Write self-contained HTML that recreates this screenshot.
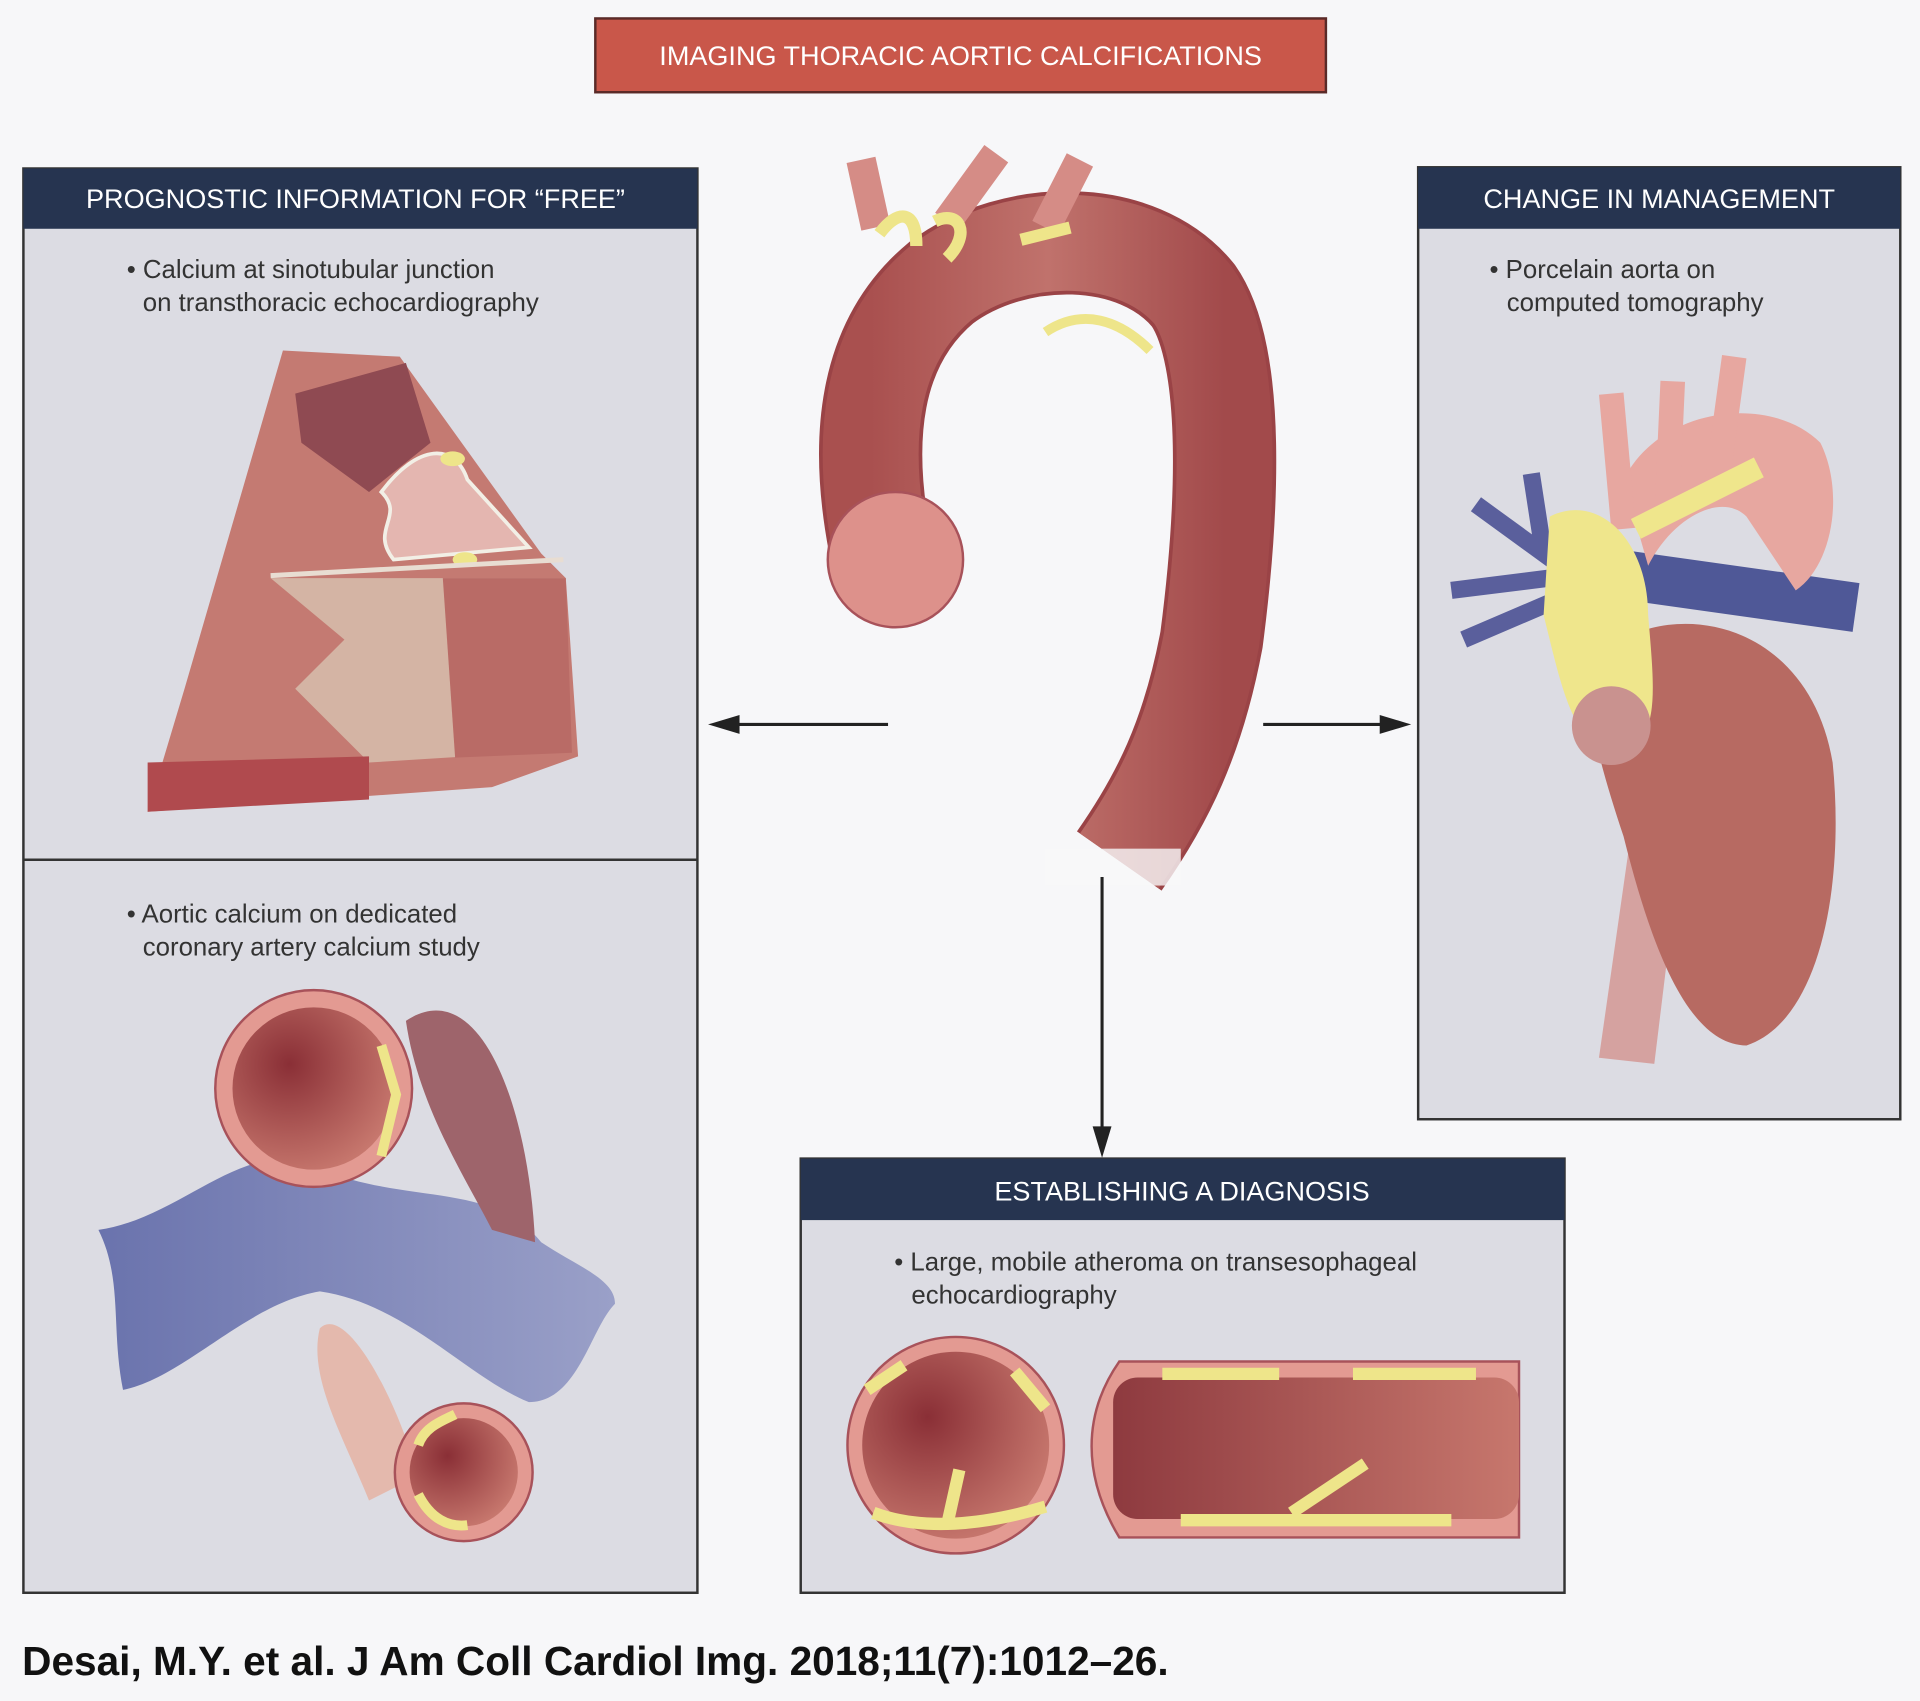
<!DOCTYPE html>
<html><head><meta charset="utf-8"><style>
html,body{margin:0;padding:0;background:#f7f7f9;}
svg{display:block}
text{font-family:"Liberation Sans",sans-serif;}
</style></head><body>
<svg width="1920" height="1701" viewBox="0 0 1561 1383" xmlns="http://www.w3.org/2000/svg">
<defs>
<linearGradient id="ao" x1="0" y1="0" x2="1" y2="0"><stop offset="0" stop-color="#a9504f"/><stop offset="0.5" stop-color="#c0726c"/><stop offset="1" stop-color="#a24a4b"/></linearGradient>
<radialGradient id="lum" cx="0.35" cy="0.35" r="0.8"><stop offset="0" stop-color="#8a2f36"/><stop offset="1" stop-color="#cf8175"/></radialGradient>
<linearGradient id="tube" x1="0" y1="0" x2="1" y2="0"><stop offset="0" stop-color="#8e3a3f"/><stop offset="1" stop-color="#c7776d"/></linearGradient>
<linearGradient id="blue" x1="0" y1="0" x2="1" y2="0"><stop offset="0" stop-color="#6a73ad"/><stop offset="1" stop-color="#9aa0c8"/></linearGradient>
</defs>
<rect width="1561" height="1383" fill="#f7f7f9"/>
<rect x="484" y="15" width="594" height="60" fill="#c9574a" stroke="#5a2a28" stroke-width="2"/>
<text x="781" y="53" font-size="22" fill="#fff" text-anchor="middle">IMAGING THORACIC AORTIC CALCIFICATIONS</text>
<rect x="19" y="137" width="548" height="1158" fill="#dcdce3" stroke="#333" stroke-width="2"/>
<rect x="19" y="137" width="548" height="49" fill="#263450"/>
<text x="289" y="169" font-size="22" fill="#fff" text-anchor="middle">PROGNOSTIC INFORMATION FOR “FREE”</text>
<line x1="19" y1="699" x2="567" y2="699" stroke="#333" stroke-width="2"/>
<text x="103" y="226" font-size="21" fill="#333">• Calcium at sinotubular junction</text>
<text x="116" y="253" font-size="21" fill="#333">on transthoracic echocardiography</text>
<text x="103" y="750" font-size="21" fill="#333">• Aortic calcium on dedicated</text>
<text x="116" y="777" font-size="21" fill="#333">coronary artery calcium study</text>
<polygon points="230,285 325,290 440,450 460,470 470,615 400,640 120,660 150,560" fill="#c47a72"/>
<polygon points="240,320 330,295 350,360 300,400 245,360" fill="#8f4a52"/>
<polygon points="220,470 460,470 460,610 300,620 240,560 280,520" fill="#d4b4a4"/>
<polygon points="360,470 460,470 465,612 370,616" fill="#b96b66"/>
<polygon points="120,620 300,615 300,650 120,660" fill="#b04a4e"/>
<path d="M310,400 C340,360 370,360 380,390 L430,445 L320,455 C300,430 330,420 310,400Z" fill="#e4b6b0" stroke="#f2efe6" stroke-width="3"/>
<ellipse cx="368" cy="373" rx="10" ry="6" fill="#eee58a"/><ellipse cx="378" cy="455" rx="10" ry="6" fill="#eee58a"/>
<line x1="220" y1="468" x2="458" y2="455" stroke="#e8ddd2" stroke-width="4"/>
<path d="M80,1000 C150,990 200,920 260,950 C330,980 400,960 440,1010 C470,1030 500,1040 500,1060 C480,1080 470,1140 430,1140 C380,1120 330,1060 260,1050 C200,1060 150,1120 100,1130 C90,1080 100,1040 80,1000Z" fill="url(#blue)"/>
<path d="M330,830 C390,790 430,900 435,1010 L400,1000 C380,960 340,900 330,830Z" fill="#9e646b"/>
<circle cx="255" cy="885" r="80" fill="#e39a92" stroke="#a8525a" stroke-width="2"/>
<circle cx="255" cy="885" r="66" fill="url(#lum)"/>
<path d="M310,850 L322,890 L310,940" stroke="#eee58a" stroke-width="8" fill="none"/>
<path d="M260,1080 C280,1060 320,1130 340,1200 L300,1220 C280,1170 250,1120 260,1080Z" fill="#e4b9ad"/>
<circle cx="377" cy="1197" r="56" fill="#e39a92" stroke="#a8525a" stroke-width="2"/>
<circle cx="377" cy="1197" r="44" fill="url(#lum)"/>
<path d="M340,1175 C345,1160 360,1155 370,1150 M340,1215 C350,1235 365,1242 380,1240" stroke="#eee58a" stroke-width="8" fill="none"/>
<rect x="1153" y="136" width="392" height="774" fill="#dcdce3" stroke="#333" stroke-width="2"/>
<rect x="1153" y="136" width="392" height="50" fill="#263450"/>
<text x="1349" y="169" font-size="22" fill="#fff" text-anchor="middle">CHANGE IN MANAGEMENT</text>
<text x="1211" y="226" font-size="21" fill="#333">• Porcelain aorta on</text>
<text x="1225" y="253" font-size="21" fill="#333">computed tomography</text>
<path d="M1330,650 L1300,860 L1345,865 L1370,660Z" fill="#d5a2a0"/>
<path d="M1290,540 C1350,480 1470,500 1490,620 C1500,720 1480,830 1420,850 C1370,850 1340,760 1320,680 C1300,620 1290,580 1290,540Z" fill="#b76a62"/>
<path d="M1180,480 L1260,470 M1200,410 L1255,450 L1245,385 M1190,520 L1260,490" stroke="#5a5f9c" stroke-width="14" fill="none"/>
<rect x="1320" y="460" width="190" height="40" fill="#4f5897" transform="rotate(8 1410 480)"/>
<path d="M1320,390 C1350,330 1440,320 1480,360 C1500,400 1490,460 1460,480 L1420,420 C1400,400 1360,420 1340,460Z" fill="#e7a7a0"/>
<path d="M1310,320 L1320,430 M1360,310 L1355,420 M1410,290 L1395,400" stroke="#e7a7a0" stroke-width="20" fill="none"/>
<path d="M1260,420 C1300,400 1340,440 1340,500 C1345,560 1350,600 1320,610 C1280,615 1270,560 1255,500Z" fill="#efe68c"/>
<path d="M1330,430 L1430,380" stroke="#efe68c" stroke-width="18"/>
<circle cx="1310" cy="590" r="32" fill="#c9928f"/>
<rect x="651" y="942" width="621" height="353" fill="#dcdce3" stroke="#333" stroke-width="2"/>
<rect x="651" y="942" width="621" height="50" fill="#263450"/>
<text x="961" y="976" font-size="22" fill="#fff" text-anchor="middle">ESTABLISHING A DIAGNOSIS</text>
<text x="727" y="1033" font-size="21" fill="#333">• Large, mobile atheroma on transesophageal</text>
<text x="741" y="1060" font-size="21" fill="#333">echocardiography</text>
<circle cx="777" cy="1175" r="88" fill="#e39a92" stroke="#a8525a" stroke-width="2"/>
<circle cx="777" cy="1175" r="76" fill="url(#lum)"/>
<path d="M710,1230 C750,1245 800,1240 850,1225 M770,1240 L780,1195 M705,1130 L735,1110 M825,1115 L850,1145" stroke="#eee58a" stroke-width="10" fill="none"/>
<path d="M910,1107 L1235,1107 L1235,1250 L910,1250 C880,1200 880,1150 910,1107Z" fill="#e39a92" stroke="#a8525a" stroke-width="2"/>
<rect x="905" y="1120" width="330" height="115" rx="20" fill="url(#tube)"/>
<path d="M945,1117 L1040,1117 M1100,1117 L1200,1117 M960,1236 L1180,1236 M1050,1230 L1110,1190" stroke="#eee58a" stroke-width="10" fill="none"/>
<path d="M715,440 C700,360 705,280 765,230 C825,185 925,185 970,240 C1005,290 998,420 985,520 C970,600 945,650 910,700" fill="none" stroke="#9a4346" stroke-width="84"/>
<path d="M715,440 C700,360 705,280 765,230 C825,185 925,185 970,240 C1005,290 998,420 985,520 C970,600 945,650 910,700" fill="none" stroke="url(#ao)" stroke-width="78"/>
<path d="M712,185 L700,130 M770,180 L810,125 M850,185 L878,130" stroke="#d58c86" stroke-width="24" fill="none"/>
<path d="M715,190 C730,170 745,170 745,200 M760,180 C780,170 790,190 770,210 M830,195 L870,185" stroke="#eee58a" stroke-width="10" fill="none"/>
<path d="M850,270 C880,250 910,260 935,285" stroke="#eee58a" stroke-width="8" fill="none"/>
<circle cx="728" cy="455" r="55" fill="#dd918b" stroke="#a8525a" stroke-width="2"/>
<rect x="850" y="690" width="110" height="30" fill="#f7f7f9" opacity="0.8"/>
<g stroke="#222" stroke-width="2.5" fill="#222">
<line x1="722" y1="589" x2="592" y2="589"/><polygon points="580,589 600,583 600,595"/>
<line x1="1027" y1="589" x2="1131" y2="589"/><polygon points="1143,589 1123,583 1123,595"/>
<line x1="896" y1="713" x2="896" y2="925"/><polygon points="896,937 890,917 902,917"/>
</g>
<text x="18" y="1362" font-size="33" font-weight="bold" fill="#111">Desai, M.Y. et al. J Am Coll Cardiol Img. 2018;11(7):1012–26.</text>
</svg>
</body></html>
